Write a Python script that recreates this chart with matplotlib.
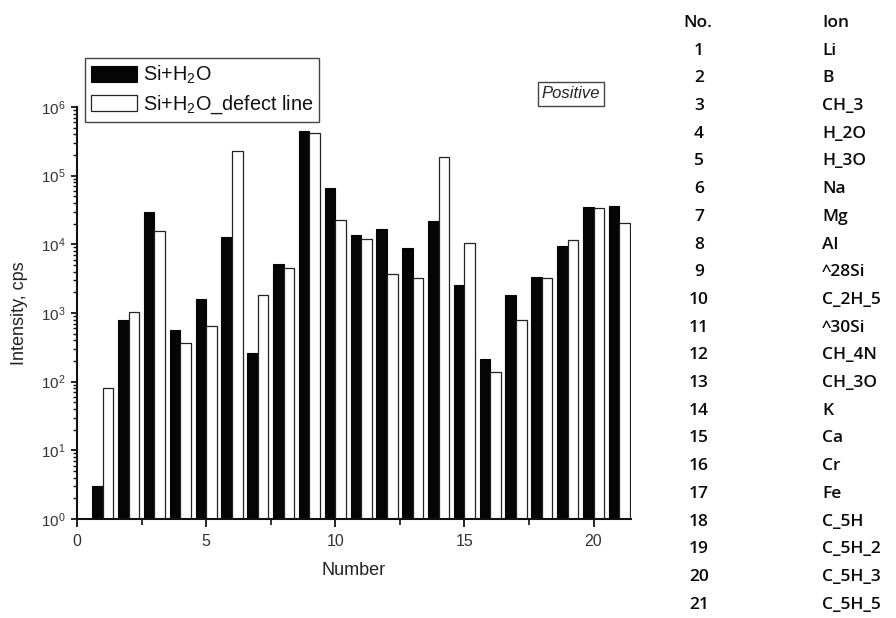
import matplotlib
matplotlib.use("Agg")
import matplotlib.pyplot as plt
import numpy as np
from matplotlib.ticker import LogLocator, FixedLocator, FuncFormatter, NullFormatter

plt.rcParams['font.family'] = ['Liberation Sans', 'DejaVu Sans']
plt.rcParams['mathtext.fontset'] = 'custom'
plt.rcParams['mathtext.rm'] = 'Liberation Sans'
plt.rcParams['mathtext.it'] = 'Liberation Sans:italic'

# Ion numbers and measured intensities (cps)
numbers = list(range(1, 22))
si_h2o = [3, 780, 29500, 570, 1590, 13000, 265, 5150, 453000, 67000,
          13500, 17000, 8900, 21900, 2600, 217, 1840, 3400, 9550, 35000, 36500]
si_h2o_defect = [80, 1050, 15900, 371, 650, 230000, 1820, 4500, 414000, 22600,
                 11800, 3650, 3250, 186000, 10500, 138, 780, 3250, 11700, 33800, 20400]
ions = ["Li", "B", "CH_3", "H_2O", "H_3O", "Na", "Mg", "Al", "^28Si", "C_2H_5",
        "^30Si", "CH_4N", "CH_3O", "K", "Ca", "Cr", "Fe", "C_5H", "C_5H_2",
        "C_5H_3", "C_5H_5"]
series_labels = [r"Si+H$_2$O", r"Si+H$_2$O_defect line"]

fig = plt.figure(figsize=(8.96, 6.18), dpi=100)
ax = fig.add_axes([77 / 896, 1 - 519 / 618, (631 - 77) / 896, (519 - 107) / 618])

x = np.array(numbers, dtype=float)
w = 0.41
ax.bar(x - w / 2, si_h2o, width=w, color='#050505', edgecolor='#050505',
       linewidth=0.8, label=series_labels[0])
ax.bar(x + w / 2, si_h2o_defect, width=w, color='white', edgecolor='#222222',
       linewidth=0.9, label=series_labels[1])

ax.set_yscale('log')
ax.set_ylim(1, 1e6)
ax.set_xlim(0, 21.45)

for s in ['top', 'right']:
    ax.spines[s].set_visible(False)
for s in ['left', 'bottom']:
    ax.spines[s].set_linewidth(1.5)
    ax.spines[s].set_color('#111111')

ax.xaxis.set_major_locator(FixedLocator([0, 5, 10, 15, 20]))
ax.xaxis.set_minor_locator(FixedLocator([2.5, 7.5, 12.5, 17.5]))
ax.yaxis.set_major_locator(LogLocator(base=10, numticks=10))
ax.yaxis.set_minor_locator(LogLocator(base=10, subs=np.arange(2, 10), numticks=20))
ax.yaxis.set_major_formatter(FuncFormatter(lambda v, p: r"$\mathregular{10^{%d}}$" % round(np.log10(v))))
ax.yaxis.set_minor_formatter(NullFormatter())

ax.tick_params(axis='x', which='major', direction='out', length=6, width=1.3,
               labelsize=11.5, pad=5, colors='#111111', labelcolor='#333333')
ax.tick_params(axis='x', which='minor', direction='out', length=4, width=1.2,
               colors='#111111')
ax.tick_params(axis='y', which='major', direction='out', length=4.5, width=1.3,
               labelsize=11, pad=4, colors='#111111', labelcolor='#333333')
ax.tick_params(axis='y', which='minor', direction='out', length=3, width=1.0,
               colors='#111111')

ax.set_xlabel("Number", fontsize=13, color='#222222', labelpad=9)
ax.set_ylabel("Intensity, cps", fontsize=13, color='#222222', labelpad=9)

leg = ax.legend(loc='upper left', bbox_to_anchor=(85 / 896, 1 - 58 / 618),
                bbox_transform=fig.transFigure, borderaxespad=0,
                fontsize=14.3, handlelength=2.3, handleheight=0.85,
                handletextpad=0.3, labelspacing=0.38, borderpad=0.3,
                fancybox=False, framealpha=1, edgecolor='#444444')
leg.get_frame().set_linewidth(1.0)
for t in leg.get_texts():
    t.set_color('#111111')

fig.text(571 / 896, 1 - 94 / 618, "Positive", fontsize=12, style='italic',
         ha='center', va='center', color='#222222',
         bbox=dict(boxstyle='square,pad=0.25', facecolor='white',
                   edgecolor='#444444', linewidth=1.0))

# ion legend table
tbl_font = ['Open Sans', 'DejaVu Sans']
tbl_size = 12.5
tbl_weight = 'semibold'
row0 = 23
step = 27.7
fig.text(698 / 896, 1 - row0 / 618, "No.", fontsize=tbl_size, family=tbl_font,
         weight=tbl_weight, ha='center', va='center', color='#0a0a0a')
fig.text(822 / 896, 1 - row0 / 618, "Ion", fontsize=tbl_size, family=tbl_font,
         weight=tbl_weight, ha='left', va='center', color='#0a0a0a')
for i, (n, ion) in enumerate(zip(numbers, ions)):
    y = row0 + step * (i + 1)
    fig.text(699 / 896, 1 - y / 618, str(n), fontsize=tbl_size, family=tbl_font,
             weight=tbl_weight, ha='center', va='center', color='#0a0a0a')
    fig.text(822 / 896, 1 - y / 618, ion, fontsize=tbl_size, family=tbl_font,
             weight=tbl_weight, ha='left', va='center', color='#0a0a0a')

fig.savefig("out.png", dpi=100)
